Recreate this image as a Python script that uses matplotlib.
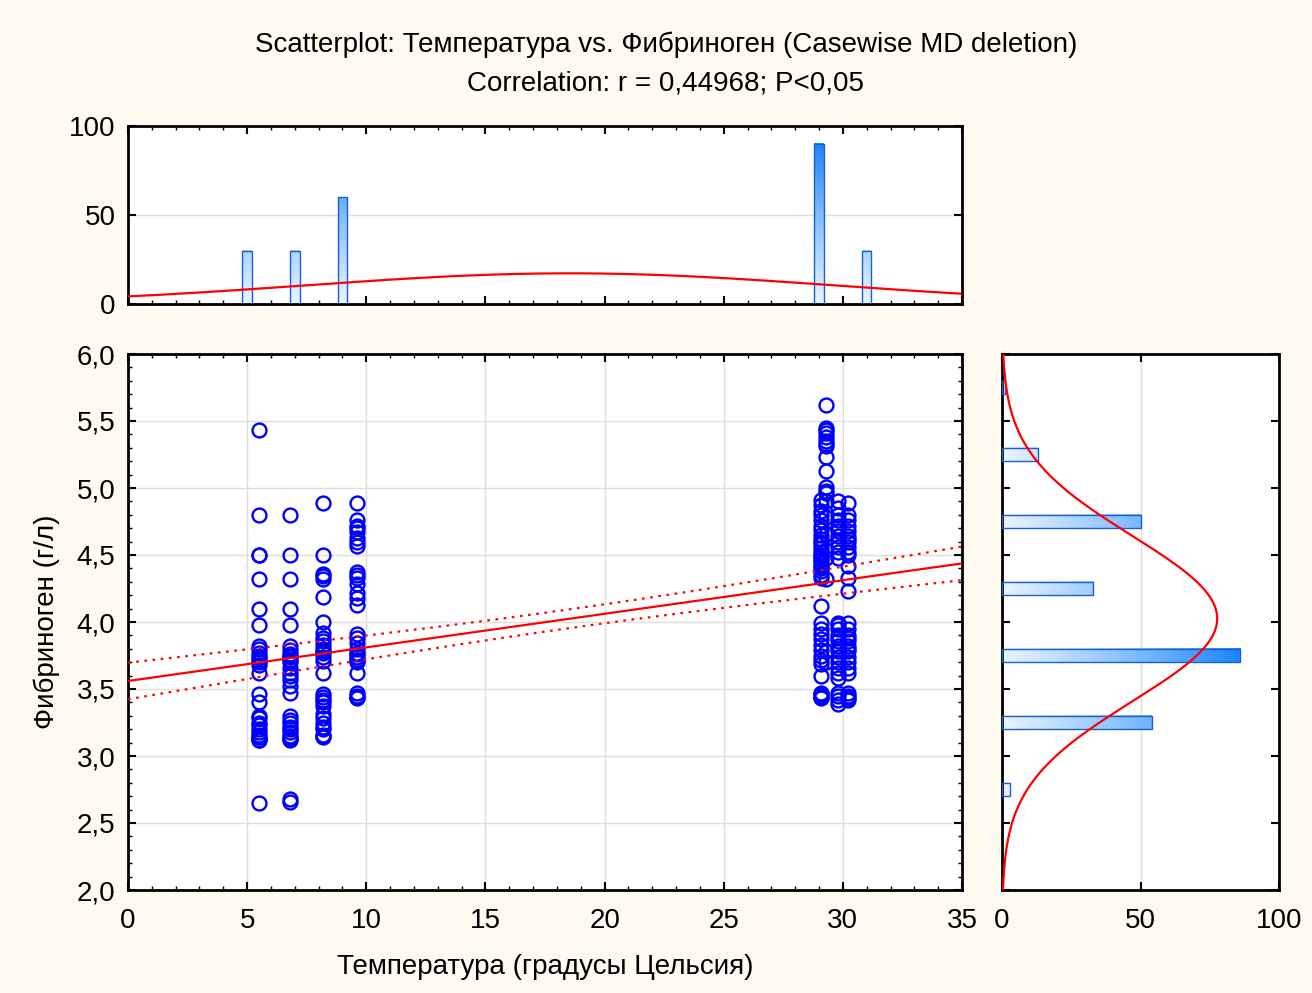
import numpy as np
import matplotlib
matplotlib.use("Agg")
import matplotlib.pyplot as plt
from matplotlib.patches import Rectangle
from matplotlib.colors import LinearSegmentedColormap
from matplotlib.ticker import FuncFormatter, MultipleLocator

plt.rcParams['font.family'] = ['Liberation Sans', 'DejaVu Sans']

# temperature columns (deg C) and the fibrinogen values seen in each
temp_cols = [5.5, 6.8, 8.2, 9.6, 29.1, 29.3, 29.8, 30.2]
fib_55 = [5.43, 4.80, 4.50, 4.50, 4.32, 4.10, 3.98, 3.82, 3.80, 3.77, 3.75, 3.73, 3.71, 3.70, 3.68,
          3.62, 3.46, 3.40, 3.30, 3.28, 3.25, 3.23, 3.20, 3.18, 3.16, 3.14, 3.12, 3.12, 2.65, 3.14]
fib_68 = [4.80, 4.50, 4.32, 4.10, 3.98, 3.82, 3.79, 3.76, 3.74, 3.72, 3.70, 3.66, 3.62, 3.57, 3.52,
          3.47, 3.30, 3.27, 3.25, 3.22, 3.20, 3.18, 3.15, 3.13, 3.12, 2.68, 2.66, 3.75, 3.14, 3.60]
fib_82 = [4.89, 4.50, 4.36, 4.34, 4.32, 4.19, 4.00, 3.92, 3.88, 3.83, 3.80, 3.77, 3.74, 3.71, 3.62,
          3.46, 3.42, 3.40, 3.37, 3.31, 3.28, 3.25, 3.22, 3.20, 3.16, 3.14, 3.86, 3.78, 3.44, 3.15]
fib_96 = [4.89, 4.76, 4.72, 4.67, 4.63, 4.60, 4.57, 4.37, 4.33, 4.28, 4.22, 4.18, 4.13, 3.91, 3.88,
          3.84, 3.80, 3.77, 3.74, 3.72, 3.70, 3.62, 3.47, 3.45, 3.43, 4.70, 3.72, 3.76, 4.35, 3.44]
fib_291 = [4.91, 4.87, 4.83, 4.80, 4.76, 4.72, 4.69, 4.65, 4.62, 4.58, 4.55, 4.52, 4.49, 4.46, 4.44,
           4.35, 4.33, 4.12, 3.99, 3.95, 3.91, 3.87, 3.83, 3.79, 3.75, 3.72, 3.69, 3.60, 3.47, 3.45,
           3.43, 4.47, 4.42, 4.38, 4.40, 4.50, 4.60, 3.46, 3.44]
fib_293 = [5.62, 5.45, 5.43, 5.41, 5.38, 5.35, 5.33, 5.31, 5.23, 5.13, 5.01, 4.98, 4.96, 4.90, 4.78,
           4.66, 4.54, 4.48, 4.32, 3.78, 3.70]
fib_298 = [4.90, 4.85, 4.80, 4.76, 4.72, 4.68, 4.64, 4.60, 4.56, 4.52, 4.48, 3.99, 3.95, 3.90, 3.86,
           3.82, 3.78, 3.74, 3.70, 3.66, 3.62, 3.58, 3.47, 3.45, 3.42, 3.39, 3.98, 3.88, 4.70, 3.80]
fib_302 = [4.89, 4.80, 4.76, 4.72, 4.68, 4.64, 4.60, 4.56, 4.52, 4.50, 4.42, 4.33, 4.23, 3.99, 3.95,
           3.90, 3.86, 3.82, 3.78, 3.74, 3.70, 3.66, 3.62, 3.47, 3.45, 3.43, 3.42, 3.80, 4.62, 3.88]
fib_cols = [fib_55, fib_68, fib_82, fib_96, fib_291, fib_293, fib_298, fib_302]

# marginal histograms (bin centres, counts)
top_bins = [5, 7, 9, 29, 31]
top_counts = [30, 30, 60, 90, 30]
top_binw = 2.0
right_bins = [2.75, 3.25, 3.75, 4.25, 4.75, 5.25, 5.75]
right_counts = [3, 54, 86, 33, 50, 13, 1]
right_binw = 0.5

title1 = "Scatterplot: Температура vs. Фибриноген (Casewise MD deletion)"
title2 = "Correlation: r = 0,44968; P<0,05"
xlabel = "Температура (градусы Цельсия)"
ylabel = "Фибриноген (г/л)"

x = np.concatenate([np.full(len(f), t) for t, f in zip(temp_cols, fib_cols)])
y = np.concatenate([np.array(f) for f in fib_cols])
n = len(x)

# linear fit + 95% confidence band
slope, icpt = np.polyfit(x, y, 1)
xm = x.mean()
sxx = ((x - xm) ** 2).sum()
s = np.sqrt(((y - (icpt + slope * x)) ** 2).sum() / (n - 2))
xx = np.linspace(0, 35, 200)
yy = icpt + slope * xx
half = 1.97 * s * np.sqrt(1.0 / n + (xx - xm) ** 2 / sxx)

W, H = 1312, 993
fig = plt.figure(figsize=(W / 100, H / 100), dpi=100)
fig.patch.set_facecolor('#FFFAEF')

def box(l, t, r, b):
    return [l / W, 1 - b / H, (r - l) / W, (b - t) / H]

ax = fig.add_axes(box(128, 354, 962, 890))
axt = fig.add_axes(box(128, 126, 962, 304))
axr = fig.add_axes(box(1002, 354, 1279, 890))

grid_c = '#DEDEDE'
blue_cm = LinearSegmentedColormap.from_list('bl', ['#EAF4FF', '#8CC3FF', '#1C86FF'])
comma = FuncFormatter(lambda v, p: f"{v:.1f}".replace('.', ','))
FS = 20

def style(a):
    a.set_facecolor('white')
    for sp in a.spines.values():
        sp.set_linewidth(2)
        sp.set_color('black')
    a.tick_params(which='both', direction='in', top=True, right=True, labelsize=FS, width=1.5)
    a.tick_params(which='major', length=6)
    a.tick_params(axis='x', which='major', pad=13)
    a.tick_params(axis='y', which='major', pad=9)
    a.tick_params(which='minor', length=3, width=1)

# ---- main scatter
style(ax)
ax.set_xlim(0, 35)
ax.set_ylim(2.0, 6.0)
ax.xaxis.set_major_locator(MultipleLocator(5))
ax.xaxis.set_minor_locator(MultipleLocator(1))
ax.yaxis.set_major_locator(MultipleLocator(0.5))
ax.yaxis.set_minor_locator(MultipleLocator(0.1))
ax.yaxis.set_major_formatter(comma)
ax.grid(True, which='major', color=grid_c, lw=1)
ax.set_axisbelow(True)
ax.plot(x, y, 'o', mfc='none', mec='#0000FF', ms=10, mew=1.7, zorder=3, clip_on=False)
ax.plot(xx, yy, color='red', lw=1.6, zorder=4)
ax.plot(xx, yy + half, color='red', lw=1.6, ls=(0, (1.2, 2.5)), zorder=4)
ax.plot(xx, yy - half, color='red', lw=1.6, ls=(0, (1.2, 2.5)), zorder=4)
ax.set_xlabel(xlabel, fontsize=FS, labelpad=14)
ax.set_ylabel(ylabel, fontsize=FS, labelpad=12)

# ---- top histogram (temperature)
style(axt)
axt.set_xlim(0, 35)
axt.set_ylim(0, 100)
axt.xaxis.set_major_locator(MultipleLocator(5))
axt.xaxis.set_minor_locator(MultipleLocator(1))
axt.yaxis.set_major_locator(MultipleLocator(50))
axt.tick_params(labelbottom=False)
axt.grid(True, axis='y', color=grid_c, lw=1)
axt.set_axisbelow(True)
hmax = max(top_counts)
bw = top_binw * 0.2
for c, h in zip(top_bins, top_counts):
    g = np.linspace(0, h / hmax, 64).reshape(-1, 1)
    axt.imshow(g, cmap=blue_cm, vmin=0, vmax=1, extent=[c - bw / 2, c + bw / 2, 0, h],
               origin='lower', aspect='auto', zorder=2)
    axt.add_patch(Rectangle((c - bw / 2, 0), bw, h, fill=False, ec='#1A5FD0', lw=1, zorder=3))
axt.set_xlim(0, 35)
axt.set_ylim(0, 100)
sx = x.std(ddof=1)
pdfx = np.exp(-0.5 * ((xx - xm) / sx) ** 2) / (sx * np.sqrt(2 * np.pi))
axt.plot(xx, n * top_binw * pdfx, color='red', lw=1.6, zorder=4)

# ---- right histogram (fibrinogen)
style(axr)
axr.set_xlim(0, 100)
axr.set_ylim(2.0, 6.0)
axr.xaxis.set_major_locator(MultipleLocator(50))
axr.yaxis.set_major_locator(MultipleLocator(0.5))
axr.tick_params(labelleft=False)
axr.grid(True, axis='x', color=grid_c, lw=1)
axr.set_axisbelow(True)
hmax = max(right_counts)
bh = right_binw * 0.2
for c, w in zip(right_bins, right_counts):
    g = np.linspace(0, w / hmax, 64).reshape(1, -1)
    axr.imshow(g, cmap=blue_cm, vmin=0, vmax=1, extent=[0, w, c - bh / 2, c + bh / 2],
               origin='lower', aspect='auto', zorder=2)
    axr.add_patch(Rectangle((0, c - bh / 2), w, bh, fill=False, ec='#1A5FD0', lw=1, zorder=3))
axr.set_xlim(0, 100)
axr.set_ylim(2.0, 6.0)
ym = y.mean()
sy = y.std(ddof=1)
yv = np.linspace(2, 6, 300)
pdfy = np.exp(-0.5 * ((yv - ym) / sy) ** 2) / (sy * np.sqrt(2 * np.pi))
axr.plot(n * right_binw * pdfy, yv, color='red', lw=1.6, zorder=4)

fig.text(666 / W, 1 - 45 / H, title1, ha='center', va='center', fontsize=FS)
fig.text(666 / W, 1 - 83 / H, title2, ha='center', va='center', fontsize=FS)

fig.savefig('out.png', dpi=100, facecolor=fig.get_facecolor())
